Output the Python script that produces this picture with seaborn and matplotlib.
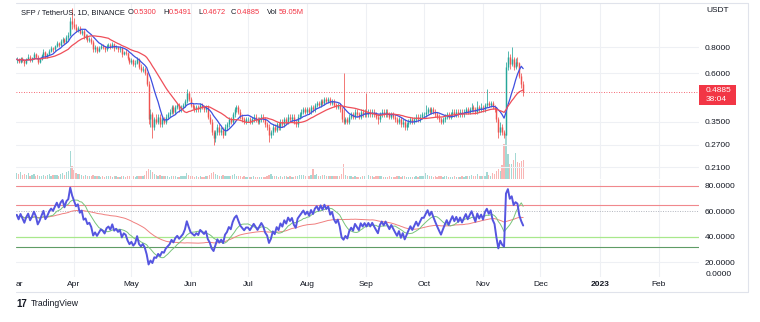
import numpy as np
import pandas as pd
import matplotlib
matplotlib.use("Agg")
import matplotlib.pyplot as plt
import matplotlib.dates as mdates
from matplotlib.patches import Rectangle
from matplotlib.lines import Line2D
from matplotlib.ticker import NullLocator
import seaborn as sns

# ---------------- data (daily candles, 2022-03-02 .. 2022-11-22) ----------------
first_open = 0.69
close_mar = [0.70,0.68,0.71,0.69,0.67,0.70,0.72,0.69,0.71,0.74,0.72,0.68,0.70,0.73,0.76,0.72,0.74,0.77,0.79,0.78,0.81,0.84,0.82,0.86,0.88,0.85,0.90,0.92,1.07,1.03]
high_mar = [0.72,0.71,0.72,0.72,0.70,0.71,0.74,0.73,0.72,0.76,0.75,0.73,0.71,0.74,0.78,0.77,0.75,0.78,0.81,0.80,0.82,0.86,0.85,0.88,0.90,0.89,0.92,0.95,1.12,1.24]
low_mar = [0.67,0.67,0.67,0.68,0.65,0.66,0.69,0.68,0.68,0.70,0.71,0.66,0.67,0.69,0.72,0.71,0.71,0.73,0.76,0.76,0.77,0.80,0.80,0.81,0.84,0.83,0.84,0.87,0.91,0.98]
vol_mar = [20,14,22,12,16,11,18,10,13,15,9,12,10,9,11,10,12,14,9,11,13,12,10,16,18,12,22,24,87,40]

close_apr = [1.00,0.97,0.99,0.94,0.96,0.90,0.91,0.87,0.88,0.85,0.78,0.80,0.77,0.79,0.81,0.80,0.78,0.81,0.82,0.80,0.83,0.79,0.80,0.78,0.79,0.74,0.76,0.75,0.71,0.68]
high_apr = [1.10,1.03,1.01,1.01,0.98,0.98,0.93,0.93,0.90,0.90,0.87,0.82,0.81,0.81,0.83,0.83,0.81,0.83,0.84,0.84,0.85,0.84,0.82,0.81,0.81,0.80,0.77,0.78,0.76,0.72]
low_apr = [0.98,0.95,0.95,0.93,0.92,0.88,0.88,0.85,0.85,0.83,0.76,0.76,0.75,0.76,0.78,0.78,0.76,0.77,0.79,0.78,0.79,0.77,0.78,0.76,0.76,0.72,0.73,0.73,0.69,0.66]
vol_apr = [28,20,16,14,12,10,11,9,8,9,13,10,9,8,7,8,7,8,9,8,7,9,8,7,6,9,8,7,8,9]

close_may = [0.69,0.66,0.67,0.70,0.64,0.62,0.63,0.60,0.53,0.36,0.38,0.33,0.36,0.35,0.37,0.34,0.36,0.35,0.37,0.38,0.39,0.41,0.39,0.41,0.42,0.40,0.41,0.42,0.44,0.48,0.45]
high_may = [0.71,0.70,0.69,0.72,0.71,0.66,0.65,0.64,0.61,0.55,0.40,0.39,0.37,0.38,0.38,0.38,0.37,0.37,0.38,0.39,0.40,0.42,0.42,0.42,0.43,0.43,0.42,0.43,0.45,0.50,0.49]
low_may = [0.66,0.65,0.64,0.66,0.63,0.61,0.61,0.59,0.52,0.34,0.33,0.29,0.32,0.34,0.34,0.33,0.33,0.34,0.34,0.36,0.37,0.38,0.38,0.38,0.40,0.39,0.39,0.40,0.41,0.43,0.44]
vol_may = [8,9,7,8,10,9,8,12,24,31,28,22,16,12,10,11,9,8,9,8,7,8,9,8,7,6,8,9,10,18,12]

close_jun = [0.42,0.41,0.40,0.41,0.40,0.42,0.41,0.40,0.41,0.37,0.35,0.31,0.29,0.31,0.33,0.31,0.32,0.30,0.33,0.34,0.36,0.35,0.38,0.40,0.41,0.39,0.37,0.36,0.35,0.36]
high_jun = [0.46,0.43,0.42,0.42,0.42,0.43,0.43,0.42,0.42,0.42,0.38,0.36,0.32,0.32,0.34,0.34,0.33,0.33,0.34,0.35,0.37,0.37,0.39,0.41,0.42,0.42,0.40,0.38,0.37,0.37]
low_jun = [0.41,0.40,0.39,0.39,0.39,0.39,0.40,0.39,0.39,0.36,0.34,0.30,0.27,0.28,0.30,0.30,0.30,0.29,0.30,0.32,0.33,0.34,0.34,0.37,0.39,0.38,0.36,0.35,0.34,0.34]
vol_jun = [9,8,7,8,7,8,7,6,8,10,12,18,22,16,12,10,9,11,8,9,10,8,12,14,10,9,8,7,8,7]

close_jul = [0.36,0.35,0.36,0.37,0.36,0.35,0.36,0.37,0.36,0.34,0.33,0.30,0.31,0.33,0.32,0.34,0.33,0.35,0.34,0.36,0.35,0.37,0.36,0.37,0.35,0.34,0.37,0.38,0.39,0.40,0.39]
high_jul = [0.37,0.37,0.37,0.38,0.38,0.37,0.37,0.38,0.38,0.37,0.35,0.34,0.32,0.34,0.34,0.35,0.35,0.36,0.36,0.37,0.37,0.38,0.38,0.38,0.38,0.36,0.38,0.39,0.40,0.41,0.41]
low_jul = [0.35,0.34,0.34,0.35,0.35,0.34,0.34,0.35,0.35,0.33,0.32,0.28,0.29,0.30,0.31,0.31,0.32,0.32,0.33,0.33,0.34,0.34,0.35,0.35,0.34,0.33,0.33,0.36,0.37,0.38,0.38]
vol_jul = [6,7,6,8,7,6,7,6,5,7,8,12,14,10,9,8,7,8,7,9,8,7,8,6,7,8,10,12,13,11,10]

close_aug = [0.40,0.39,0.41,0.40,0.42,0.43,0.42,0.44,0.43,0.45,0.44,0.45,0.43,0.44,0.42,0.41,0.42,0.40,0.36,0.35,0.36,0.35,0.37,0.38,0.37,0.39,0.38,0.37,0.39,0.38,0.39]
high_aug = [0.41,0.41,0.42,0.42,0.43,0.44,0.44,0.45,0.45,0.46,0.46,0.46,0.46,0.45,0.45,0.43,0.43,0.43,0.41,0.60,0.37,0.37,0.38,0.39,0.39,0.40,0.40,0.39,0.40,0.40,0.40]
low_aug = [0.38,0.38,0.38,0.39,0.39,0.41,0.41,0.41,0.42,0.42,0.43,0.43,0.42,0.42,0.41,0.40,0.40,0.39,0.35,0.34,0.34,0.34,0.34,0.36,0.36,0.36,0.37,0.36,0.36,0.37,0.37]
vol_aug = [9,10,11,31,12,14,10,10,12,11,10,9,10,9,8,9,8,9,14,47,12,10,9,8,7,8,7,6,7,8,9]

close_sep = [0.38,0.39,0.38,0.39,0.38,0.37,0.36,0.38,0.39,0.38,0.39,0.38,0.37,0.38,0.37,0.36,0.35,0.36,0.34,0.35,0.33,0.34,0.35,0.36,0.35,0.36,0.37,0.36,0.37,0.38]
high_sep = [0.48,0.40,0.40,0.40,0.40,0.39,0.38,0.39,0.40,0.40,0.40,0.40,0.39,0.39,0.39,0.38,0.37,0.37,0.37,0.36,0.36,0.35,0.36,0.37,0.37,0.37,0.38,0.38,0.38,0.39]
low_sep = [0.37,0.37,0.37,0.37,0.37,0.36,0.34,0.35,0.37,0.37,0.37,0.37,0.36,0.36,0.36,0.35,0.34,0.34,0.33,0.33,0.32,0.32,0.33,0.34,0.34,0.34,0.35,0.35,0.35,0.36]
vol_sep = [34,12,9,8,7,8,10,9,8,7,6,7,8,6,7,6,8,9,7,8,9,7,6,7,6,7,8,7,8,9]

close_oct = [0.38,0.39,0.40,0.39,0.40,0.39,0.38,0.37,0.36,0.35,0.36,0.37,0.38,0.37,0.38,0.39,0.38,0.39,0.38,0.39,0.38,0.39,0.40,0.39,0.40,0.41,0.40,0.39,0.41,0.40,0.41]
high_oct = [0.39,0.42,0.41,0.41,0.41,0.41,0.40,0.39,0.38,0.37,0.37,0.38,0.39,0.39,0.39,0.40,0.40,0.40,0.40,0.40,0.40,0.40,0.41,0.41,0.41,0.43,0.42,0.41,0.44,0.42,0.43]
low_oct = [0.37,0.37,0.38,0.38,0.38,0.38,0.37,0.36,0.35,0.34,0.34,0.35,0.36,0.36,0.36,0.37,0.37,0.37,0.37,0.37,0.37,0.37,0.38,0.38,0.38,0.39,0.39,0.38,0.38,0.39,0.39]
vol_oct = [10,19,12,9,8,7,8,7,9,8,7,8,9,7,6,7,8,7,6,7,8,7,8,9,10,12,9,8,14,10,9]

close_nov = [0.40,0.42,0.43,0.42,0.43,0.41,0.40,0.36,0.31,0.33,0.31,0.30,0.64,0.72,0.66,0.70,0.64,0.68,0.67,0.58,0.53,0.4885]
high_nov = [0.42,0.43,0.50,0.44,0.44,0.44,0.42,0.41,0.37,0.35,0.34,0.32,0.68,0.77,0.74,0.80,0.72,0.71,0.72,0.68,0.60,0.5491]
low_nov = [0.39,0.39,0.41,0.41,0.41,0.40,0.39,0.35,0.29,0.30,0.30,0.29,0.30,0.62,0.63,0.65,0.62,0.63,0.65,0.57,0.51,0.4672]
vol_nov = [9,10,22,12,10,18,14,25,30,25,45,108,140,78,46,46,60,80,52,50,55,59.05]

month_labels = ["Apr", "May", "Jun", "Jul", "Aug", "Sep", "Oct", "Nov", "Dec", "2023", "Feb"]
month_starts = ["2022-04-01", "2022-05-01", "2022-06-01", "2022-07-01", "2022-08-01", "2022-09-01",
                "2022-10-01", "2022-11-01", "2022-12-01", "2023-01-01", "2023-02-01"]
price_ticks = [0.80, 0.60, 0.35, 0.27, 0.21]
rsi_ticks = [80, 60, 40, 20]
rsi_levels = [80, 65, 40, 32]
last_price = 0.4885
countdown = "38:04"

# ---------------- assemble ----------------
closes = np.array(close_mar + close_apr + close_may + close_jun + close_jul + close_aug + close_sep + close_oct + close_nov)
highs = np.array(high_mar + high_apr + high_may + high_jun + high_jul + high_aug + high_sep + high_oct + high_nov)
lows = np.array(low_mar + low_apr + low_may + low_jun + low_jul + low_aug + low_sep + low_oct + low_nov)
vols = np.array(vol_mar + vol_apr + vol_may + vol_jun + vol_jul + vol_aug + vol_sep + vol_oct + vol_nov)
opens = np.concatenate([[first_open], closes[:-1]])
highs = np.maximum(highs, np.maximum(opens, closes))
lows = np.minimum(lows, np.minimum(opens, closes))
dates = pd.date_range("2022-03-02", periods=len(closes), freq="D")
xd = mdates.date2num(dates.to_pydatetime())
up = closes >= opens

sma_fast = pd.Series(closes).rolling(9, min_periods=1).mean().values
sma_slow = pd.Series(closes).rolling(21, min_periods=1).mean().values

# RSI (Wilder, 14)
chg = closes - opens
gain = np.clip(chg, 0, None)
loss = np.clip(-chg, 0, None)
ag, al = gain[:14].mean(), loss[:14].mean()
rsi = []
for gi, li in zip(gain, loss):
    ag = (ag * 13 + gi) / 14
    al = (al * 13 + li) / 14
    rsi.append(100 - 100 / (1 + ag / al))
rsi = np.array(rsi)
rsi_ma_fast = pd.Series(rsi).rolling(9, min_periods=1).mean().values
rsi_ma_slow = pd.Series(rsi).rolling(40, min_periods=1).mean().values

# ---------------- style ----------------
sns.set_style("white")
plt.rcParams['font.family'] = ['Liberation Sans', 'DejaVu Sans']
TXT = "#131722"
RED = "#f23645"
GRID = "#eef0f4"
UPC = "#26a69a"
DNC = "#ef5350"

W, H = 760, 322
fig = plt.figure(figsize=(W / 100, H / 100), dpi=100)
fig.patch.set_facecolor("white")

def box(x0, y0, x1, y1):
    return [x0 / W, 1 - y1 / H, (x1 - x0) / W, (y1 - y0) / H]

def fy(y):
    return 1 - y / H

ax = fig.add_axes(box(16, 3, 699, 179))
axr = fig.add_axes(box(16, 180, 699, 277), sharex=ax)

base = mdates.date2num(pd.Timestamp("2022-03-01").to_pydatetime())
ax.set_xlim(base + 0.63, base + 358.0)
ax.set_yscale("log")
ax.set_ylim(0.6 * np.exp((73 - 179) / 90), 0.6 * np.exp((73 - 3) / 90))
axr.set_ylim(80 - (277 - 186) / 1.2667, 80 - (180 - 186) / 1.2667)

mnums = [mdates.date2num(pd.Timestamp(m).to_pydatetime()) for m in month_starts]
for a in (ax, axr):
    for s in a.spines.values():
        s.set_visible(False)
    for m in mnums:
        a.axvline(m, color=GRID, lw=0.8, zorder=0)
for t in price_ticks:
    ax.axhline(t, color=GRID, lw=0.8, zorder=0)
axr.axhline(20, color=GRID, lw=0.8, zorder=0)

# volume (twin axis at the bottom of the price pane)
axv = ax.twinx()
axv.set_ylim(0, 547)
axv.bar(xd, vols, width=0.7, color=np.where(up, UPC, DNC), alpha=0.42, linewidth=0, zorder=1)
axv.set_yticks([])
for s in axv.spines.values():
    s.set_visible(False)
ax.set_zorder(axv.get_zorder() + 1)
ax.patch.set_visible(False)

# candles
ccol = np.where(up, UPC, DNC)
ax.vlines(xd, lows, highs, colors=ccol, lw=0.55, zorder=3)
ax.vlines(xd, np.minimum(opens, closes), np.maximum(opens, closes), colors=ccol, lw=1.05, zorder=3)

sns.lineplot(x=xd, y=sma_fast, ax=ax, color="#3f4fe0", lw=0.9, zorder=4)
sns.lineplot(x=xd, y=sma_slow, ax=ax, color="#ef4f5a", lw=0.9, zorder=4)
ax.axhline(last_price, color=RED, lw=0.6, ls=(0, (1, 2)), zorder=2)

# RSI pane
axr.axhline(rsi_levels[0], color="#f0888d", lw=0.8, zorder=1)
axr.axhline(rsi_levels[1], color="#f0888d", lw=0.8, zorder=1)
axr.axhline(60, color="#b2b5be", lw=0.7, ls=(0, (1, 1.5)), zorder=1)
axr.axhline(rsi_levels[2], color="#a8e88c", lw=0.9, zorder=1)
axr.axhline(rsi_levels[3], color="#5f9c66", lw=0.8, zorder=1)
sns.lineplot(x=xd, y=rsi_ma_slow, ax=axr, color="#f07f7f", lw=0.7, zorder=2)
sns.lineplot(x=xd, y=rsi_ma_fast, ax=axr, color="#78c47a", lw=0.7, zorder=2)
sns.lineplot(x=xd, y=rsi, ax=axr, color="#5555e0", lw=1.4, zorder=3)

# axes ticks and labels
for a in (ax, axr):
    a.set_xlabel("")
    a.set_ylabel("")
    a.yaxis.tick_right()
    a.yaxis.set_minor_locator(NullLocator())
ax.set_yticks(price_ticks)
ax.set_yticklabels([f"{t:.4f}" for t in price_ticks])
axr.set_yticks(rsi_ticks)
axr.set_yticklabels([f"{t:.4f}" for t in rsi_ticks])
for a in (ax, axr):
    a.tick_params(axis="y", length=0, pad=4.3, labelsize=6, labelcolor=TXT)
axr.set_xticks(mnums)
axr.set_xticklabels(month_labels)
axr.tick_params(axis="x", length=0, pad=3.0, labelsize=6, labelcolor=TXT)
ax.tick_params(axis="x", length=0, labelbottom=False)
for lbl in axr.get_xticklabels():
    if lbl.get_text() == "2023":
        lbl.set_fontweight("bold")

fig.text(16 / W, fy(285), "ar", fontsize=6, color=TXT, ha="left", va="center")
zt = fig.text(706 / W, fy(270.5), "0.0000", fontsize=6, color=TXT, ha="left", va="top")
zt.set_clip_path(Rectangle((0, fy(276.5)), 1, 1, transform=fig.transFigure))
fig.text(706 / W, fy(11), "USDT", fontsize=6, color=TXT, ha="left", va="center")

# last price tag
fig.add_artist(Rectangle((699 / W, fy(105)), 37 / W, 20 / H, transform=fig.transFigure,
                         facecolor=RED, edgecolor="none"))
fig.text(706 / W, fy(91), f"{last_price:.4f}", fontsize=6, color="white", ha="left", va="center")
fig.text(706 / W, fy(100), countdown, fontsize=6, color="white", ha="left", va="center")

# legend/title line
parts = [(21, "SFP / TetherUS, 1D, BINANCE", TXT), (128, "O", TXT), (133.5, "0.5300", RED),
         (163, "H", TXT), (169, "0.5491", RED), (198, "L", TXT), (203, "0.4672", RED),
         (231, "C", TXT), (236.5, "0.4885", RED), (267, "Vol", TXT), (279, "59.05M", RED)]
for x, s, c in parts:
    fig.text(x / W, fy(13), s, fontsize=5.4, color=c, ha="left", va="center")

# frame lines
for y in (3, 292):
    fig.add_artist(Line2D([16 / W, 748 / W], [fy(y), fy(y)], transform=fig.transFigure, color="#e0e3eb", lw=0.8))
fig.add_artist(Line2D([748 / W, 748 / W], [fy(3), fy(292)], transform=fig.transFigure, color="#e0e3eb", lw=0.8))

# TradingView mark
fig.text(16 / W, fy(304), "17", fontsize=7, fontweight="bold", color=TXT, ha="left", va="center")
fig.text(31 / W, fy(304), "TradingView", fontsize=6.2, color=TXT, ha="left", va="center")

fig.savefig("out.png", dpi=100, facecolor="white")
